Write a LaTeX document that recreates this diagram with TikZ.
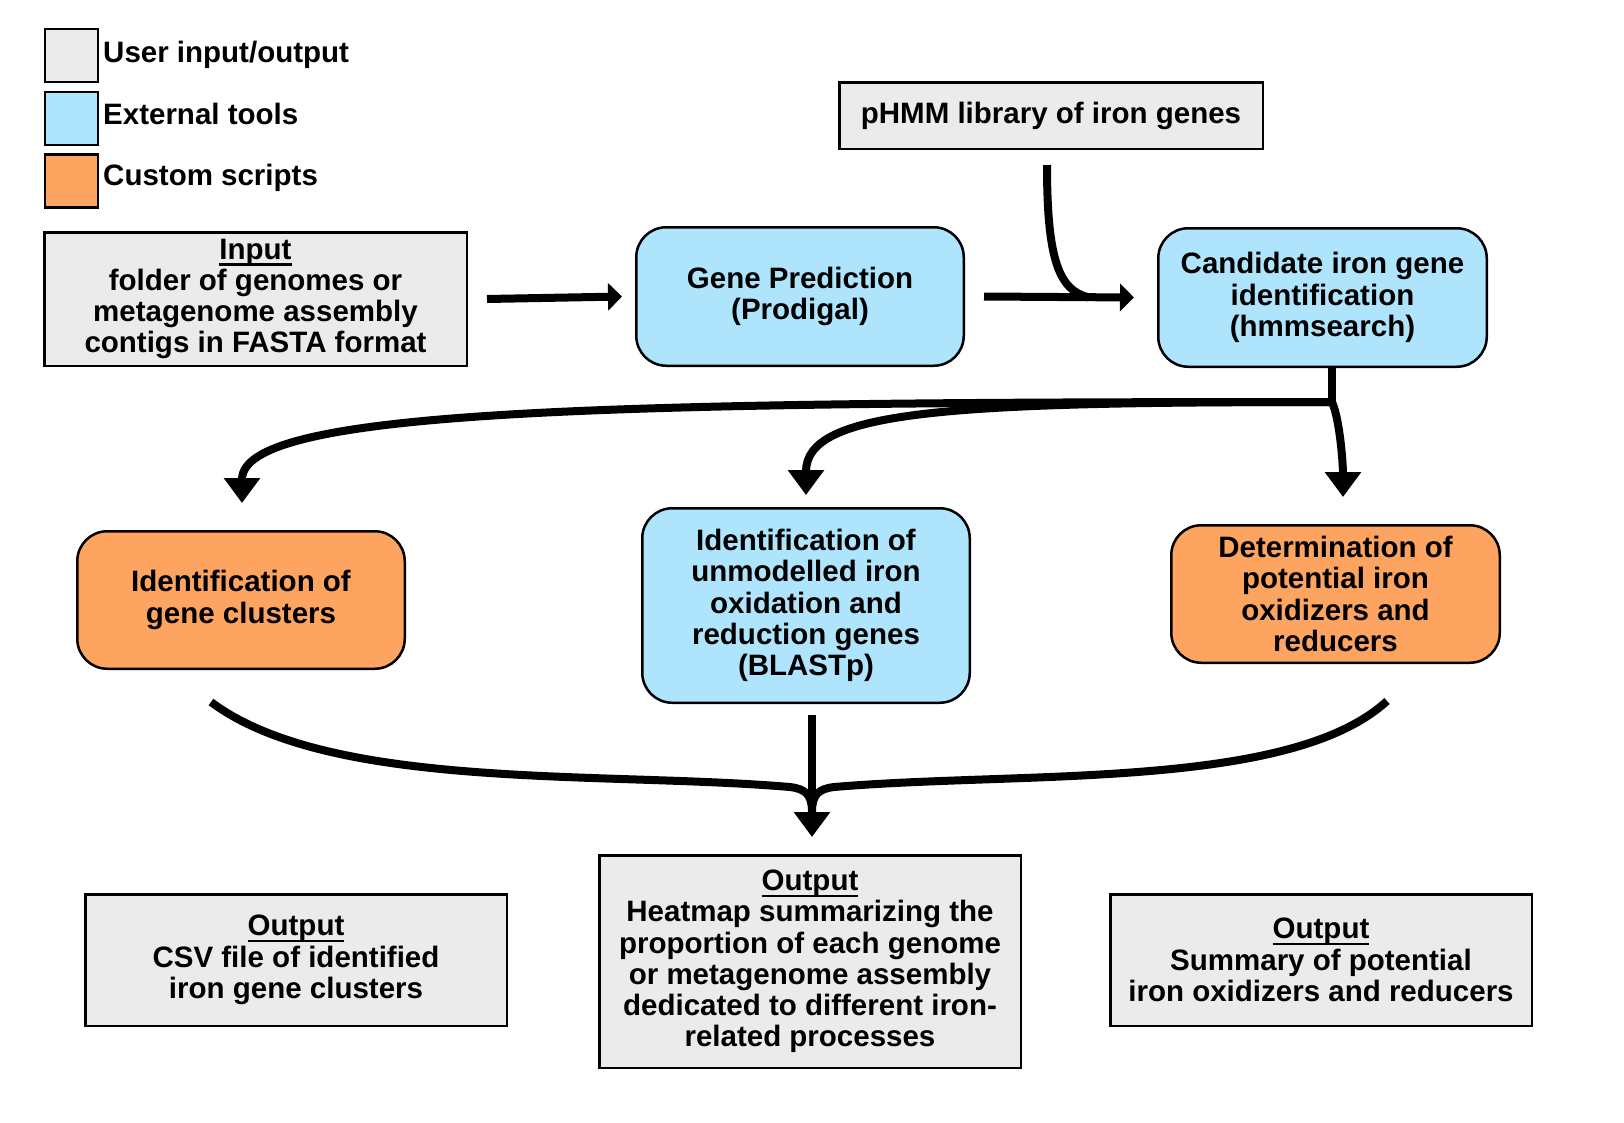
\documentclass[tikz,border=0pt]{standalone}
\usepackage{fontspec}
\setmainfont{Liberation Sans}
\usetikzlibrary{arrows.meta,calc}
\definecolor{ugray}{RGB}{235,235,235}
\definecolor{ublue}{RGB}{174,228,252}
\definecolor{uorange}{RGB}{252,164,96}
\newcommand\myul[1]{\setbox0\hbox{#1}\rlap{\rule[-6.5pt]{\wd0}{2.4pt}}\box0}
\begin{document}
\begin{tikzpicture}[x=1pt,y=-1pt,
  every node/.style={font=\fontsize{29.5}{31.2}\selectfont\bfseries, align=center, inner sep=0pt},
  iobox/.style={draw, line width=2.5pt, fill=ugray},
  toolbox/.style={draw, line width=2.5pt, fill=ublue, rounded corners=30pt},
  scriptbox/.style={draw, line width=2.5pt, fill=uorange, rounded corners=30pt},
  legbox/.style={draw, line width=2.5pt, minimum width=53pt, minimum height=53pt},
  legtext/.style={anchor=base west},
  conn/.style={line width=8pt},
  hhead/.style={-{Triangle[length=14pt,width=27pt]}},
  vhead/.style={-{Triangle[length=25pt,width=35pt]}},
]
\useasboundingbox[fill=white] (0,0) rectangle (1624,1122);

% legend
\node[legbox, fill=ugray] (lg1) at (71.5,55.5) {};
\node[legbox, fill=ublue] (lg2) at (71.5,118.5) {};
\node[legbox, fill=uorange] (lg3) at (71.5,181) {};
\node[legtext] (lt1) at (103,62) {User input/output};
\node[legtext] (lt2) at (103,124) {External tools};
\node[legtext] (lt3) at (103,185) {Custom scripts};

% boxes
\node[iobox, minimum width=422.5pt, minimum height=133.5pt] (inp) at (255.5,299)
  {\myul{Input}\\folder of genomes or\\metagenome assembly\\contigs in FASTA format};
\node[iobox, minimum width=423.5pt, minimum height=66.5pt] (phmm) at (1051,115.5)
  {pHMM library of iron genes};
\node[toolbox, minimum width=327.5pt, minimum height=138.5pt] (gene) at (800,296.5)
  {Gene Prediction\\(Prodigal)};
\node[toolbox, minimum width=328.5pt, minimum height=138.5pt] (cand) at (1322.5,297.5)
  {Candidate iron gene\\identification\\(hmmsearch)};
\node[scriptbox, minimum width=327.5pt, minimum height=137.5pt] (clus) at (241,600)
  {Identification of\\gene clusters};
\node[toolbox, minimum width=327.5pt, minimum height=194.5pt] (blast) at (806,605.5)
  {Identification of\\unmodelled iron\\oxidation and\\reduction genes\\(BLASTp)};
\node[scriptbox, minimum width=328.5pt, minimum height=137.5pt] (det) at (1335.5,594)
  {Determination of\\potential iron\\oxidizers and\\reducers};
\node[iobox, minimum width=421.5pt, minimum height=131.5pt] (oleft) at (296,960)
  {\myul{Output}\\CSV file of identified\\iron gene clusters};
\node[iobox, minimum width=421.5pt, minimum height=212.5pt] (omid) at (810,961.5)
  {\myul{Output}\\Heatmap summarizing the\\proportion of each genome\\or metagenome assembly\\dedicated to different iron-\\related processes};
\node[iobox, minimum width=421.5pt, minimum height=131.5pt] (oright) at (1321,960)
  {\myul{Output}\\Summary of potential\\iron oxidizers and reducers};

% top row arrows
\draw[conn,hhead] ($(inp.east)+(19,0)$) -- ($(gene.west)+(-13,0)$);
\coordinate (mrg) at ($(cand.west)+(-68,0)$);
\draw[conn,hhead] ($(gene.east)+(19,0)$) -- ($(cand.west)+(-23,0)$);
\draw[conn] ($(phmm.south)+(-4,15)$) .. controls +(0,95) and +(-30,-7) .. (mrg);

% branching from candidate
\coordinate (br) at ($(cand.south)+(9.5,34)$);
\coordinate (tipL) at ($(clus.north)+(1,-27)$);
\coordinate (tipM) at ($(blast.north)+(0,-12)$);
\coordinate (tipR) at ($(det.north)+(7.5,-27)$);
\draw[conn] ($(cand.south)+(9.5,-2)$) -- (br);
\draw[conn,vhead] (br) .. controls +(-732,0) and +(0,-94) .. (tipL);
\draw[conn,vhead] (br) .. controls +(-382,0) and +(0,-85) .. (tipM);
\draw[conn,vhead] (br) .. controls +(8,18) and +(0,-32) .. (tipR);

% converging to output
\coordinate (jn) at ($(blast.south)+(6,83)$);
\coordinate (tipB) at ($(omid.north)+(2,-17)$);
\coordinate (cL) at ($(clus.south)+(-30,32)$);
\coordinate (cR) at ($(det.south)+(51.5,37)$);
\draw[conn] (cL) .. controls +(119,89) and +(-190,-16) .. ($(jn)+(-22,0)$)
  .. controls +(16,2) and +(0,-17) .. ($(jn)+(0,25)$);
\draw[conn] (cR) .. controls +(-97,89) and +(190,-16) .. ($(jn)+(22,0)$)
  .. controls +(-16,2) and +(0,-17) .. ($(jn)+(0,25)$);
\draw[conn,vhead] ($(blast.south)+(6,11)$) -- (tipB);
\end{tikzpicture}
\end{document}
